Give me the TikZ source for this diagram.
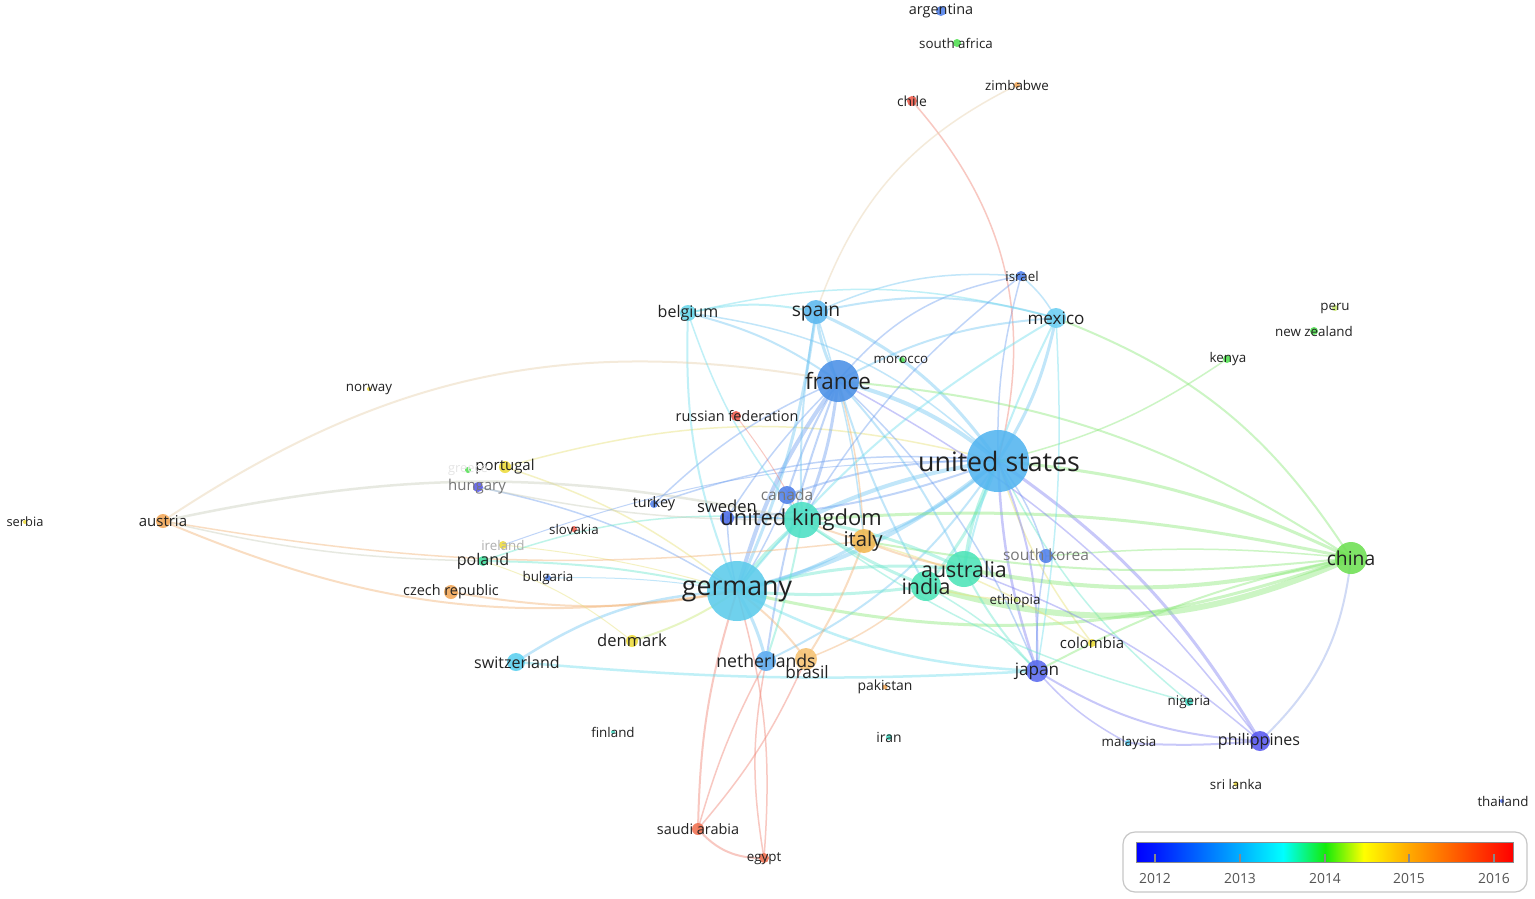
\documentclass[tikz,border=0pt]{standalone}
\usepackage{fontspec}
\setmainfont{Open Sans}
\usetikzlibrary{backgrounds}
\definecolor{c0}{RGB}{0,0,255}
\definecolor{c1}{RGB}{0,25,255}
\definecolor{c2}{RGB}{0,175,255}
\definecolor{c3}{RGB}{0,255,255}
\definecolor{c4}{RGB}{20,235,10}
\definecolor{c5}{RGB}{255,255,0}
\definecolor{c6}{RGB}{255,170,0}
\definecolor{c7}{RGB}{255,30,0}
\definecolor{c8}{RGB}{255,0,0}
\pgfdeclarehorizontalshading{vosbar}{100bp}{color(0bp)=(c0); color(25bp)=(c0); color(27.5bp)=(c1); color(38.8bp)=(c2); color(44.5bp)=(c3); color(50.1bp)=(c4); color(55.2bp)=(c5); color(61.2bp)=(c6); color(72.5bp)=(c7); color(75bp)=(c8); color(100bp)=(c8)}
% node colours
\definecolor{nUS}{HTML}{52B4F0}
\definecolor{nDE}{HTML}{5CCBEB}
\definecolor{nFR}{HTML}{4A90E6}
\definecolor{nUK}{HTML}{4CE0C4}
\definecolor{nIT}{HTML}{F3B850}
\definecolor{nAU}{HTML}{4DE4B8}
\definecolor{nCN}{HTML}{6EE052}
\definecolor{nES}{HTML}{5CB8F0}
\definecolor{nMX}{HTML}{6CCFF2}
\definecolor{nBE}{HTML}{6AD8EC}
\definecolor{nNL}{HTML}{5AAAF0}
\definecolor{nBR}{HTML}{F5C272}
\definecolor{nJP}{HTML}{5A6AEE}
\definecolor{nPH}{HTML}{5858F0}
\definecolor{nBlue}{HTML}{5080EA}
\definecolor{nDBlue}{HTML}{4C6CE8}
\definecolor{nCyan}{HTML}{5AD0F0}
\definecolor{nTeal}{HTML}{40D8C0}
\definecolor{nYel}{HTML}{EEDC3C}
\definecolor{nOra}{HTML}{F3A858}
\definecolor{nRed}{HTML}{F05A4A}
\definecolor{nRedO}{HTML}{F07050}
\definecolor{nGrn}{HTML}{50E050}
\definecolor{nPoland}{HTML}{40E0A0}
% edge colours
\definecolor{eb}{HTML}{6CC4F2}
\definecolor{ebd}{HTML}{6A9CF0}
\definecolor{ec}{HTML}{6ADCEC}
\definecolor{et}{HTML}{66E6CC}
\definecolor{eg}{HTML}{86E874}
\definecolor{ep}{HTML}{7C7CF2}
\definecolor{ebp}{HTML}{90A8E8}
\definecolor{eo}{HTML}{F3B070}
\definecolor{er}{HTML}{F07C6C}
\definecolor{ey}{HTML}{E6E070}
\definecolor{eyg}{HTML}{C8E870}
\definecolor{ebeige}{HTML}{E6CFA8}
\definecolor{egray}{HTML}{C8CCB8}
\definecolor{labc}{HTML}{222222}
\definecolor{labg}{HTML}{777777}
\definecolor{labl}{HTML}{B0B0B0}
\definecolor{legc}{HTML}{555555}
\newcommand{\myfs}[1]{\fontsize{\dimexpr #1pt*107/100\relax}{\dimexpr #1pt*107/100\relax}\selectfont}
\newcommand{\lnk}[5]{\draw[draw=#3, line width=#4pt, draw opacity=0.42] (#1.center) to[#5] (#2.center);}
\tikzset{
  dot/.style={circle, inner sep=0pt, draw=none, fill opacity=0.88},
  lab/.style={inner sep=0pt, text=labc},
  legtick/.style={draw=legc!70, line width=1.2pt},
  legtxt/.style={inner sep=0pt, text=legc, font=\myfs{13}}
}
\begin{document}
\begin{tikzpicture}[x=1pt,y=-1pt]
\useasboundingbox (0,0) rectangle (1535,898);
% ---------- nodes (circles) ----------
\node[dot, minimum size=62pt, fill=nUS] (us) at (998,461) {};
\node[dot, minimum size=60pt, fill=nDE] (germany) at (737,591) {};
\node[dot, minimum size=42pt, fill=nFR] (france) at (838,381) {};
\node[dot, minimum size=36pt, fill=nUK] (uk) at (802,520) {};
\node[dot, minimum size=24pt, fill=nIT] (italy) at (864,541) {};
\node[dot, minimum size=36pt, fill=nAU] (australia) at (964,569) {};
\node[dot, minimum size=30pt, fill=nAU] (india) at (926,586) {};
\node[dot, minimum size=32pt, fill=nCN] (china) at (1351,558) {};
\node[dot, minimum size=24pt, fill=nES] (spain) at (816,312) {};
\node[dot, minimum size=20pt, fill=nMX] (mexico) at (1056,318) {};
\node[dot, minimum size=16pt, fill=nBE] (belgium) at (688,313) {};
\node[dot, minimum size=10pt, fill=nBlue] (israel) at (1021,276) {};
\node[dot, minimum size=6pt, fill=nGrn] (morocco) at (902,360) {};
\node[dot, minimum size=10pt, fill=nRed] (russia) at (736,416) {};
\node[dot, minimum size=18pt, fill=nBlue] (canada) at (787,495) {};
\node[dot, minimum size=14pt, fill=nDBlue] (sweden) at (727,518) {};
\node[dot, minimum size=8pt, fill=nBlue] (turkey) at (654,504) {};
\node[dot, minimum size=12pt, fill=nYel] (portugal) at (505,467) {};
\node[dot, minimum size=10pt, fill=nPH] (hungary) at (478,487) {};
\node[dot, minimum size=6pt, fill=nGrn] (greece) at (468,470) {};
\node[dot, minimum size=14pt, fill=nOra] (austria) at (163,521) {};
\node[dot, minimum size=4pt, fill=nYel] (serbia) at (25,522) {};
\node[dot, minimum size=4pt, fill=nYel] (norway) at (369,389) {};
\node[dot, minimum size=6pt, fill=nRed] (slovakia) at (574,529) {};
\node[dot, minimum size=8pt, fill=nYel] (ireland) at (503,545) {};
\node[dot, minimum size=10pt, fill=nPoland] (poland) at (483,561) {};
\node[dot, minimum size=6pt, fill=nBlue] (bulgaria) at (548,578) {};
\node[dot, minimum size=14pt, fill=nOra] (czech) at (451,592) {};
\node[dot, minimum size=12pt, fill=nYel] (denmark) at (632,641) {};
\node[dot, minimum size=18pt, fill=nCyan] (switzerland) at (516,662) {};
\node[dot, minimum size=20pt, fill=nNL] (netherlands) at (766,661) {};
\node[dot, minimum size=22pt, fill=nBR] (brasil) at (806,659) {};
\node[dot, minimum size=5pt, fill=nOra] (pakistan) at (885,687) {};
\node[dot, minimum size=4pt, fill=nTeal] (finland) at (613,732) {};
\node[dot, minimum size=6pt, fill=nTeal] (iran) at (889,737) {};
\node[dot, minimum size=12pt, fill=nRedO] (saudi) at (698,829) {};
\node[dot, minimum size=10pt, fill=nRedO] (egypt) at (764,858) {};
\node[dot, minimum size=14pt, fill=nBlue] (southkorea) at (1046,556) {};
\node[dot, minimum size=5pt, fill=eyg] (ethiopia) at (1016,600) {};
\node[dot, minimum size=8pt, fill=nYel] (colombia) at (1092,643) {};
\node[dot, minimum size=22pt, fill=nJP] (japan) at (1037,671) {};
\node[dot, minimum size=8pt, fill=nTeal] (nigeria) at (1189,702) {};
\node[dot, minimum size=6pt, fill=nCyan] (malaysia) at (1128,743) {};
\node[dot, minimum size=20pt, fill=nPH] (philippines) at (1260,741) {};
\node[dot, minimum size=5pt, fill=nYel] (srilanka) at (1236,784) {};
\node[dot, minimum size=4pt, fill=nDBlue] (thailand) at (1502,801) {};
\node[dot, minimum size=8pt, fill=nGrn] (kenya) at (1227,359) {};
\node[dot, minimum size=6pt, fill=eyg] (peru) at (1335,308) {};
\node[dot, minimum size=8pt, fill=nGrn] (newzealand) at (1314,331) {};
\node[dot, minimum size=10pt, fill=nBlue] (argentina) at (941,11) {};
\node[dot, minimum size=8pt, fill=nGrn] (southafrica) at (957,43) {};
\node[dot, minimum size=6pt, fill=nOra] (zimbabwe) at (1017,85) {};
\node[dot, minimum size=10pt, fill=nRed] (chile) at (912,101) {};
% ---------- labels ----------
\node[lab, font=\myfs{25}] (l-us) at (999,461) {united states};
\node[lab, font=\myfs{25}] (l-germany) at (737,591) {germany};
\node[lab, font=\myfs{21}] (l-france) at (838,381) {france};
\node[lab, font=\myfs{20.5}] (l-uk) at (801,520) {united kingdom};
\node[lab, font=\myfs{19}] (l-italy) at (863,541) {italy};
\node[lab, font=\myfs{20}] (l-australia) at (964,569) {australia};
\node[lab, font=\myfs{20}] (l-india) at (926,586) {india};
\node[lab, font=\myfs{18}] (l-china) at (1351,558) {china};
\node[lab, font=\myfs{18}] (l-spain) at (816,312) {spain};
\node[lab, font=\myfs{16}] (l-mexico) at (1056,318) {mexico};
\node[lab, font=\myfs{15}] (l-belgium) at (688,313) {belgium};
\node[lab, font=\myfs{12.5}] (l-israel) at (1022,276) {israel};
\node[lab, font=\myfs{12.5}] (l-morocco) at (901,360) {morocco};
\node[lab, font=\myfs{13.5}] (l-russia) at (737,416) {russian federation};
\node[lab, font=\myfs{14.5}, text=labg] (l-canada) at (787,495) {canada};
\node[lab, font=\myfs{15.5}] (l-sweden) at (727,506) {sweden};
\node[lab, font=\myfs{13.5}] (l-turkey) at (654,504) {turkey};
\node[lab, font=\myfs{14}] (l-portugal) at (505,467) {portugal};
\node[lab, font=\myfs{14}, text=labg] (l-hungary) at (477,487) {hungary};
\node[lab, font=\myfs{12}, text=black!10] (l-greece) at (468,471) {greece};
\node[lab, font=\myfs{14}] (l-austria) at (163,521) {austria};
\node[lab, font=\myfs{12}] (l-serbia) at (25,522) {serbia};
\node[lab, font=\myfs{12.5}] (l-norway) at (369,389) {norway};
\node[lab, font=\myfs{12.5}] (l-slovakia) at (574,529) {slovakia};
\node[lab, font=\myfs{12.5}, text=labl] (l-ireland) at (503,545) {ireland};
\node[lab, font=\myfs{15}] (l-poland) at (483,561) {poland};
\node[lab, font=\myfs{12.5}] (l-bulgaria) at (548,578) {bulgaria};
\node[lab, font=\myfs{13.5}] (l-czech) at (451,592) {czech republic};
\node[lab, font=\myfs{15.5}] (l-denmark) at (632,640) {denmark};
\node[lab, font=\myfs{15}] (l-switzerland) at (517,662) {switzerland};
\node[lab, font=\myfs{16.5}] (l-netherlands) at (766,661) {netherlands};
\node[lab, font=\myfs{16}] (l-brasil) at (807,672) {brasil};
\node[lab, font=\myfs{13}] (l-pakistan) at (885,687) {pakistan};
\node[lab, font=\myfs{12.5}] (l-finland) at (613,732) {finland};
\node[lab, font=\myfs{13}] (l-iran) at (889,737) {iran};
\node[lab, font=\myfs{13.5}] (l-saudi) at (698,829) {saudi arabia};
\node[lab, font=\myfs{12.5}] (l-egypt) at (764,859) {egypt};
\node[lab, font=\myfs{14.5}, text=labg] (l-southkorea) at (1046,555) {south korea};
\node[lab, font=\myfs{12.5}] (l-ethiopia) at (1015,601) {ethiopia};
\node[lab, font=\myfs{14}] (l-colombia) at (1092,643) {colombia};
\node[lab, font=\myfs{16}] (l-japan) at (1037,671) {japan};
\node[lab, font=\myfs{12.5}] (l-nigeria) at (1189,702) {nigeria};
\node[lab, font=\myfs{12.5}] (l-malaysia) at (1129,743) {malaysia};
\node[lab, font=\myfs{15}] (l-philippines) at (1259,741) {philippines};
\node[lab, font=\myfs{12.5}] (l-srilanka) at (1236,784) {sri lanka};
\node[lab, font=\myfs{12.5}] (l-thailand) at (1503,801) {thailand};
\node[lab, font=\myfs{12.5}] (l-kenya) at (1228,359) {kenya};
\node[lab, font=\myfs{12.5}] (l-peru) at (1335,308) {peru};
\node[lab, font=\myfs{12.5}] (l-newzealand) at (1314,331) {new zealand};
\node[lab, font=\myfs{13.5}] (l-argentina) at (941,11) {argentina};
\node[lab, font=\myfs{12.5}] (l-southafrica) at (956,43) {south africa};
\node[lab, font=\myfs{12.5}] (l-zimbabwe) at (1017,85) {zimbabwe};
\node[lab, font=\myfs{13}] (l-chile) at (912,101) {chile};
% ---------- legend ----------
\node[draw=black!22, line width=1.2pt, rounded corners=12pt, minimum width=404pt, minimum height=60pt, inner sep=0pt] (legend) at (1325,862) {};
\shade[shading=vosbar, draw=black!45, line width=0.8pt] (1136,842) rectangle (1513,862);
\coordinate (t12) at (1155,862); \coordinate (t13) at (1240,862); \coordinate (t14) at (1325,862); \coordinate (t15) at (1409,862); \coordinate (t16) at (1494,862);
\foreach \t in {t12,t13,t14,t15,t16} {\draw[legtick] (\t) -- ++(0,-8);}
\node[legtxt] (y12) at (1155,879) {2012};
\node[legtxt] (y13) at (1240,879) {2013};
\node[legtxt] (y14) at (1325,879) {2014};
\node[legtxt] (y15) at (1409,879) {2015};
\node[legtxt] (y16) at (1494,879) {2016};
% ---------- edges ----------
\begin{scope}[on background layer]
\fill[white] (0,0) rectangle (1535,898);
% united states
\lnk{us}{france}{eb}{4}{bend right=12}
\lnk{us}{germany}{eb}{4}{bend left=12}
\lnk{us}{uk}{eb}{4}{bend right=8}
\lnk{us}{spain}{eb}{3}{bend right=15}
\lnk{us}{mexico}{eb}{3}{bend right=10}
\lnk{us}{israel}{ebd}{1.5}{bend left=8}
\lnk{us}{italy}{eb}{3}{bend left=10}
\lnk{us}{australia}{et}{3}{bend right=10}
\lnk{us}{india}{et}{3}{bend left=10}
\lnk{us}{netherlands}{eb}{2}{bend left=15}
\lnk{us}{canada}{ebd}{2}{bend right=10}
\lnk{us}{belgium}{eb}{1.5}{bend right=18}
\lnk{us}{southkorea}{ebd}{1.5}{bend left=10}
\lnk{us}{colombia}{ey}{1.5}{bend right=10}
\lnk{us}{nigeria}{et}{1.5}{bend right=12}
\lnk{us}{japan}{ep}{2.5}{bend right=8}
\lnk{us}{japan}{ep}{2}{bend left=12}
\lnk{us}{philippines}{ep}{3}{bend left=12}
\lnk{us}{chile}{er}{1.5}{bend right=28}
\lnk{us}{kenya}{eg}{1.5}{bend right=10}
\lnk{us}{portugal}{ey}{1.5}{bend right=15}
\lnk{us}{turkey}{ebd}{1.5}{bend right=12}
\lnk{us}{sweden}{ebd}{2}{bend left=8}
% china
\lnk{china}{us}{eg}{3}{bend right=10}
\lnk{china}{india}{eg}{6}{bend left=20}
\lnk{china}{australia}{eg}{4}{bend left=12}
\lnk{china}{uk}{eg}{3}{bend right=8}
\lnk{china}{germany}{eg}{3}{bend left=16}
\lnk{china}{japan}{eg}{2}{bend right=8}
\lnk{china}{france}{eg}{2}{bend right=14}
\lnk{china}{mexico}{eg}{2}{bend right=18}
\lnk{china}{philippines}{ebp}{2}{bend left=20}
\lnk{china}{italy}{eg}{2}{bend left=8}
\lnk{china}{southkorea}{eg}{1.5}{bend right=5}
% france
\lnk{france}{spain}{eb}{3}{bend left=10}
\lnk{france}{germany}{ebd}{4}{bend right=10}
\lnk{france}{uk}{ebd}{3}{bend left=8}
\lnk{france}{belgium}{eb}{2}{bend right=10}
\lnk{france}{italy}{eo}{1.5}{bend left=6}
\lnk{france}{mexico}{eb}{2}{bend left=12}
\lnk{france}{israel}{ebd}{1.5}{bend left=20}
\lnk{france}{canada}{ebd}{2}{bend right=6}
\lnk{france}{netherlands}{ebd}{2}{bend right=6}
\lnk{france}{japan}{ebd}{1.5}{bend left=12}
\lnk{france}{australia}{eb}{2}{bend left=8}
\lnk{france}{india}{eb}{2}{bend right=6}
\lnk{france}{turkey}{ebd}{1.5}{bend right=10}
\lnk{france}{philippines}{ep}{1.5}{bend left=12}
\lnk{france}{sweden}{ebd}{1.5}{bend right=6}
% germany
\lnk{germany}{uk}{et}{4}{bend left=8}
\lnk{germany}{italy}{eb}{3}{bend right=8}
\lnk{germany}{australia}{et}{3}{bend left=10}
\lnk{germany}{india}{et}{3}{bend right=6}
\lnk{germany}{netherlands}{eb}{3}{bend left=8}
\lnk{germany}{switzerland}{eb}{2.5}{bend right=15}
\lnk{germany}{denmark}{eyg}{2}{bend left=8}
\lnk{germany}{spain}{eb}{3}{bend right=8}
\lnk{germany}{belgium}{ec}{2}{bend left=12}
\lnk{germany}{austria}{eo}{2}{bend left=16}
\lnk{germany}{czech}{eo}{2}{bend left=10}
\lnk{germany}{poland}{et}{2}{bend right=6}
\lnk{germany}{portugal}{ey}{1.5}{bend right=10}
\lnk{germany}{saudi}{er}{2}{bend right=8}
\lnk{germany}{egypt}{er}{1.5}{bend left=10}
\lnk{germany}{japan}{ec}{2.5}{bend right=12}
\lnk{germany}{mexico}{ec}{2}{bend left=10}
\lnk{germany}{sweden}{ebd}{1.5}{bend left=5}
\lnk{germany}{canada}{ebd}{1.5}{bend right=5}
\lnk{germany}{brasil}{eo}{2}{bend left=8}
\lnk{germany}{hungary}{ebd}{1.5}{bend right=10}
\lnk{germany}{bulgaria}{eb}{1}{bend right=5}
\lnk{germany}{ireland}{ey}{1}{bend right=5}
% others
\lnk{austria}{france}{ebeige}{2}{bend left=22}
\lnk{austria}{uk}{egray}{2.5}{bend left=12}
\lnk{austria}{italy}{eo}{1.5}{bend right=8}
\lnk{austria}{poland}{egray}{1.5}{bend right=6}
\lnk{switzerland}{japan}{ec}{2.5}{bend right=4}
\lnk{poland}{uk}{et}{1.5}{bend left=12}
\lnk{hungary}{uk}{egray}{1.5}{bend right=6}
\lnk{ireland}{us}{ebd}{1}{bend left=10}
\lnk{denmark}{poland}{ey}{1}{bend right=10}
\lnk{saudi}{netherlands}{er}{1.5}{bend left=6}
\lnk{saudi}{brasil}{er}{1.5}{bend right=8}
\lnk{saudi}{egypt}{er}{2}{bend right=25}
\lnk{egypt}{netherlands}{er}{1.5}{bend left=10}
\lnk{brasil}{italy}{eo}{2}{bend right=6}
\lnk{brasil}{india}{eo}{1.5}{bend right=10}
\lnk{spain}{belgium}{ec}{2}{bend right=12}
\lnk{spain}{mexico}{eb}{2}{bend left=14}
\lnk{spain}{israel}{eb}{1.5}{bend left=14}
\lnk{spain}{zimbabwe}{ebeige}{1.5}{bend left=22}
\lnk{spain}{uk}{eb}{2}{bend right=6}
\lnk{spain}{italy}{eb}{1.5}{bend left=6}
\lnk{mexico}{australia}{ec}{2}{bend right=6}
\lnk{mexico}{japan}{ec}{1.5}{bend left=6}
\lnk{mexico}{belgium}{ec}{1.5}{bend right=14}
\lnk{mexico}{israel}{eb}{1.5}{bend right=10}
\lnk{israel}{uk}{ebd}{1.5}{bend right=10}
\lnk{japan}{philippines}{ep}{2}{bend right=14}
\lnk{japan}{malaysia}{ep}{1.5}{bend right=10}
\lnk{malaysia}{philippines}{ep}{2}{bend right=4}
\lnk{japan}{australia}{et}{2}{bend left=8}
\lnk{japan}{india}{et}{1.5}{bend right=8}
\lnk{japan}{southkorea}{ebd}{1.5}{bend left=6}
\lnk{philippines}{australia}{ep}{1.5}{bend right=10}
\lnk{nigeria}{uk}{et}{1.5}{bend left=10}
\lnk{italy}{colombia}{ey}{1.5}{bend left=8}
\lnk{ethiopia}{india}{ey}{1.5}{bend left=6}
\lnk{canada}{uk}{ebd}{1.5}{bend right=10}
\lnk{sweden}{uk}{ebd}{1.5}{bend left=4}
\lnk{russia}{uk}{er}{1}{bend left=5}
\lnk{italy}{australia}{eo}{2}{bend right=6}
\lnk{italy}{uk}{eo}{2}{bend left=4}
\lnk{uk}{australia}{et}{3}{bend left=8}
\lnk{uk}{india}{et}{3}{bend right=6}
\lnk{uk}{netherlands}{et}{2}{bend left=4}
\lnk{belgium}{uk}{ec}{1.5}{bend right=10}
\end{scope}
\end{tikzpicture}
\end{document}
